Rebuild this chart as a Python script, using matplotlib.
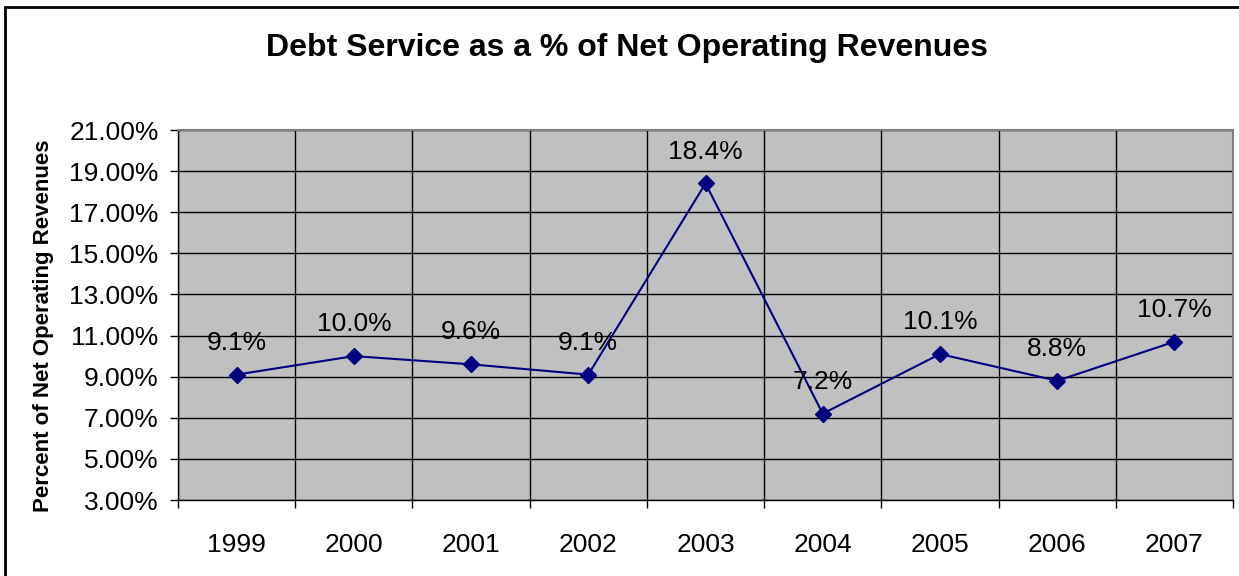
import numpy as np
import matplotlib.pyplot as plt
from matplotlib.ticker import FixedLocator, NullFormatter
from matplotlib.patches import Rectangle

plt.rcParams['font.family'] = ['Liberation Sans', 'DejaVu Sans']

years = ['1999', '2000', '2001', '2002', '2003', '2004', '2005', '2006', '2007']
pct = [9.1, 10.0, 9.6, 9.1, 18.4, 7.2, 10.1, 8.8, 10.7]
yticks = [3, 5, 7, 9, 11, 13, 15, 17, 19, 21]

fig = plt.figure(figsize=(12.39, 5.76), dpi=100)
ax = fig.add_axes([178 / 1239, 1 - 500 / 576, (1233 - 178) / 1239, (500 - 130) / 576])

# chart border (runs off the right and bottom edges)
fig.patches.append(Rectangle((5 / 1239, -0.05), 1.2, 1 - 7 / 576 + 0.05,
                             transform=fig.transFigure, fill=False,
                             edgecolor='black', linewidth=2))

x = np.arange(len(years))
ax.set_facecolor('#c0c0c0')
ax.plot(x, pct, color='#000080', linewidth=1.5, marker='D', markersize=8,
        markerfacecolor='#000080', markeredgecolor='#000080', zorder=3)

for xi, v in zip(x, pct):
    ax.text(xi, v + 1.55, f'{v:.1f}%', ha='center', va='center', fontsize=19, color='black')

ax.set_xlim(-0.5, len(years) - 0.5)
ax.set_ylim(3, 21)

# category boundaries as major ticks, year labels on minor ticks
ax.xaxis.set_major_locator(FixedLocator(np.arange(-0.5, len(years), 1.0)))
ax.xaxis.set_major_formatter(NullFormatter())
ax.xaxis.set_minor_locator(FixedLocator(x))
ax.set_xticklabels(years, minor=True)
ax.tick_params(axis='x', which='major', direction='out', length=6, width=1, color='black')
ax.tick_params(axis='x', which='minor', length=0, pad=24, labelsize=19)

ax.set_yticks(yticks)
ax.set_yticklabels([f'{t:.2f}%' for t in yticks])
ax.tick_params(axis='y', direction='out', length=6, width=1, pad=8, labelsize=19)

ax.grid(True, which='major', axis='both', color='black', linewidth=1)
ax.set_axisbelow(True)

for side in ['top', 'right']:
    ax.spines[side].set_color('#808080')
    ax.spines[side].set_linewidth(1.5)
for side in ['left', 'bottom']:
    ax.spines[side].set_color('black')
    ax.spines[side].set_linewidth(1)

ax.set_ylabel('Percent of Net Operating Revenues', fontsize=16, fontweight='bold')
ax.yaxis.set_label_coords(-124 / (1233 - 178), 0.47)

fig.text(627 / 1239, 1 - 48 / 576, 'Debt Service as a % of Net Operating Revenues',
         ha='center', va='center', fontsize=23, fontweight='bold')

fig.savefig('out.png', dpi=100)
